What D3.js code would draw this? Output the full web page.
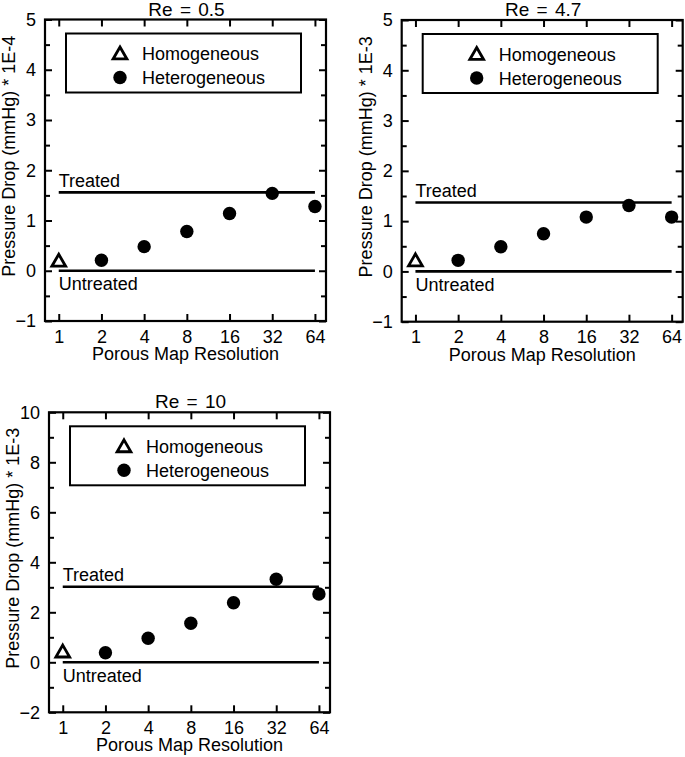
<!DOCTYPE html>
<html><head><meta charset="utf-8">
<script src="https://cdn.jsdelivr.net/npm/d3@7"></script>
<style>
body{margin:0;background:#fff}
svg text{font-family:"Liberation Sans",Arial,Helvetica,sans-serif;fill:#000}
</style>
</head><body>
<svg id="chart" width="685" height="757"></svg>
<script>
// ---------- data ----------
const resolutions = [1, 2, 4, 8, 16, 32, 64];
const resolutionLabels = ["1", "2", "4", "8", "16", "32", "64"];
const hetResolutions = [2, 4, 8, 16, 32, 64];
const titles = ["Re = 0.5", "Re = 4.7", "Re = 10"];
const yLabels = ["Pressure Drop (mmHg) * 1E-4", "Pressure Drop (mmHg) * 1E-3", "Pressure Drop (mmHg) * 1E-3"];
const homogeneous = [0.17, 0.19, 0.37];           // at resolution 1
const heterogeneousRe05 = [0.21, 0.48, 0.78, 1.14, 1.54, 1.28];
const heterogeneousRe47 = [0.22, 0.49, 0.75, 1.08, 1.31, 1.08];
const heterogeneousRe10 = [0.38, 0.96, 1.56, 2.38, 3.32, 2.73];
const treated = [1.56, 1.37, 3.02];
const untreated = [0, 0, 0];
const yDomains = [[-1, 5], [-1, 5], [-2, 10]];
const yMajorTicks = [[-1, 0, 1, 2, 3, 4, 5], [-1, 0, 1, 2, 3, 4, 5], [-2, 0, 2, 4, 6, 8, 10]];
const yMinorTicks = [[-0.5, 0.5, 1.5, 2.5, 3.5, 4.5], [-0.5, 0.5, 1.5, 2.5, 3.5, 4.5], [-1, 1, 3, 5, 7, 9]];
const legendLabels = ["Homogeneous", "Heterogeneous"];
const lineLabels = ["Treated", "Untreated"];
const heterogeneous = [heterogeneousRe05, heterogeneousRe47, heterogeneousRe10];

// ---------- layout ----------
const frames = [
  {l: 45, t: 19.5, r: 326, b: 321},
  {l: 401.7, t: 20, r: 682.7, b: 321.7},
  {l: 49, t: 412.3, r: 330, b: 712.3}
];
const FS = 18;
const svg = d3.select("#chart");
const tri = d3.symbol().type(d3.symbolTriangle).size(82);

frames.forEach((f, i) => {
  const g = svg.append("g");
  const x = d3.scaleLog().base(2).domain([0.8, 76.6]).range([f.l, f.r]);
  const y = d3.scaleLinear().domain(yDomains[i]).range([f.b, f.t]);

  // minor ticks
  const minorL = d3.axisLeft(y).tickValues(yMinorTicks[i]).tickSizeInner(-5).tickSizeOuter(0).tickFormat("");
  const minorR = d3.axisRight(y).tickValues(yMinorTicks[i]).tickSizeInner(-5).tickSizeOuter(0).tickFormat("");
  g.append("g").attr("transform", `translate(${f.l},0)`).call(minorL);
  g.append("g").attr("transform", `translate(${f.r},0)`).call(minorR);

  // major y
  const left = d3.axisLeft(y).tickValues(yMajorTicks[i]).tickSizeInner(-7).tickSizeOuter(0).tickPadding(9).tickFormat(d3.format("d"));
  const right = d3.axisRight(y).tickValues(yMajorTicks[i]).tickSizeInner(-7).tickSizeOuter(0).tickFormat("");
  g.append("g").attr("class", "yl").attr("transform", `translate(${f.l},0)`).call(left);
  g.append("g").attr("transform", `translate(${f.r},0)`).call(right);

  // x axes
  const bottom = d3.axisBottom(x).tickValues(resolutions).tickSizeInner(-7).tickSizeOuter(0).tickPadding(9)
    .tickFormat((d, k) => resolutionLabels[k]);
  const top = d3.axisTop(x).tickValues(resolutions).tickSizeInner(-7).tickSizeOuter(0).tickFormat("");
  g.append("g").attr("class", "xb").attr("transform", `translate(0,${f.b})`).call(bottom);
  g.append("g").attr("transform", `translate(0,${f.t})`).call(top);

  g.selectAll(".domain").remove();
  g.selectAll(".tick line").attr("stroke", "#000").attr("stroke-width", 2);
  g.selectAll(".tick text").attr("font-size", FS).attr("font-family", null);

  // frame
  g.append("rect").attr("x", f.l).attr("y", f.t).attr("width", f.r - f.l).attr("height", f.b - f.t)
    .attr("fill", "none").attr("stroke", "#000").attr("stroke-width", 2.2);

  // reference lines
  [treated[i], untreated[i]].forEach(v => {
    g.append("line").attr("x1", x(1)).attr("x2", x(64)).attr("y1", y(v)).attr("y2", y(v))
      .attr("stroke", "#000").attr("stroke-width", 2.6);
  });
  g.append("text").attr("x", x(1)).attr("y", y(treated[i]) - 5.5).attr("font-size", FS).text(lineLabels[0]);
  g.append("text").attr("x", x(1)).attr("y", y(untreated[i]) + 19.5).attr("font-size", FS).text(lineLabels[1]);

  // points
  g.append("path").attr("d", tri).attr("transform", `translate(${x(resolutions[0])},${y(homogeneous[i])})`)
    .attr("fill", "#fff").attr("stroke", "#000").attr("stroke-width", 2.8);
  g.selectAll("circle.het").data(heterogeneous[i]).join("circle").attr("class", "het")
    .attr("cx", (d, k) => x(hetResolutions[k])).attr("cy", d => y(d)).attr("r", 6.7).attr("fill", "#000");

  // legend
  const lx = f.l + 21, ly = f.t + 14, lw = (f.r - 25) - lx, lh = 59;
  g.append("rect").attr("x", lx).attr("y", ly).attr("width", lw).attr("height", lh)
    .attr("fill", "#fff").attr("stroke", "#000").attr("stroke-width", 2);
  g.append("path").attr("d", tri).attr("transform", `translate(${f.l + 75},${f.t + 35.5})`)
    .attr("fill", "#fff").attr("stroke", "#000").attr("stroke-width", 2.8);
  g.append("circle").attr("cx", f.l + 75).attr("cy", f.t + 58).attr("r", 6.7).attr("fill", "#000");
  g.append("text").attr("x", f.l + 97).attr("y", f.t + 40.5).attr("font-size", FS).text(legendLabels[0]);
  g.append("text").attr("x", f.l + 97).attr("y", f.t + 64.5).attr("font-size", FS).text(legendLabels[1]);

  // titles
  g.append("text").attr("x", (f.l + f.r) / 2 + 1).attr("y", f.t - 4).attr("text-anchor", "middle")
    .attr("font-size", 19).attr("word-spacing", 2).text(titles[i]);
  g.append("text").attr("x", (f.l + f.r) / 2).attr("y", f.b + 39).attr("text-anchor", "middle")
    .attr("font-size", FS).text("Porous Map Resolution");
  const cy = (f.t + f.b) / 2 - 14, cx = f.l - 30;
  g.append("text").attr("transform", `translate(${cx},${cy}) rotate(-90)`).attr("text-anchor", "middle")
    .attr("font-size", FS).text(yLabels[i]);
});
</script>
</body></html>
